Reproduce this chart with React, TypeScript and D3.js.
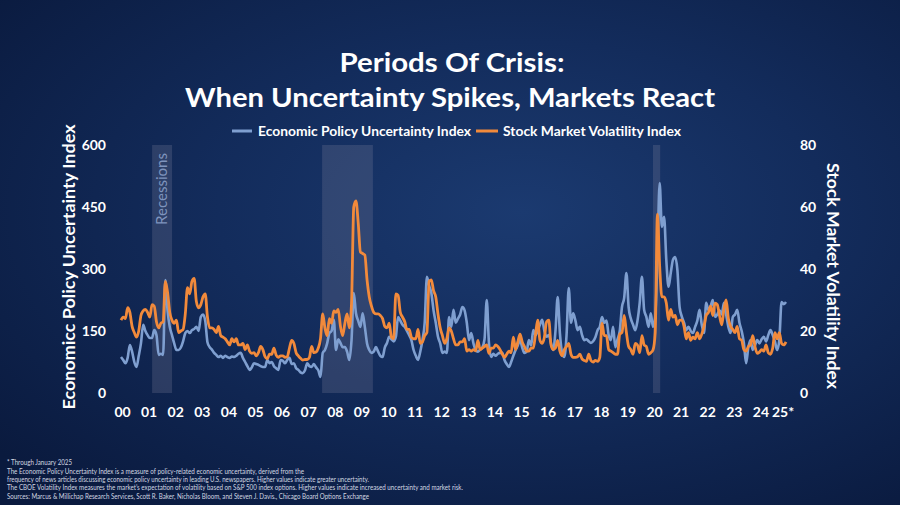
import React from "react";
import * as d3 from "d3";

// Monthly values, Jan 2000 – Jan 2025
const epuValues: number[] = [
  87, 80, 72, 85, 116, 100, 75, 63, 90, 120, 165, 150, // 2000
  140, 133, 133, 152, 140, 92, 95, 92, 273, 200, 160, 140, // 2001
  120, 104, 104, 110, 125, 145, 150, 145, 152, 155, 160, 150, // 2002
  184, 190, 175, 123, 111, 105, 97, 92, 87, 90, 85, 90, // 2003
  87, 85, 88, 87, 90, 95, 97, 85, 75, 65, 56, 62, // 2004
  72, 70, 68, 65, 63, 63, 80, 72, 75, 65, 60, 56, // 2005
  80, 78, 72, 80, 85, 70, 72, 60, 56, 50, 48, 55, // 2006
  72, 65, 63, 70, 62, 55, 39, 97, 104, 120, 145, 150, // 2007
  177, 104, 130, 121, 111, 111, 100, 80, 128, 242, 193, 175, // 2008
  160, 193, 160, 120, 104, 97, 100, 111, 100, 90, 87, 110, // 2009
  121, 136, 130, 125, 136, 184, 175, 165, 160, 150, 140, 128, // 2010
  104, 90, 80, 100, 128, 170, 281, 260, 242, 200, 170, 136, // 2011
  120, 97, 100, 97, 184, 160, 201, 170, 180, 190, 208, 200, // 2012
  170, 128, 145, 120, 104, 100, 105, 110, 130, 225, 120, 87, // 2013
  95, 90, 95, 97, 97, 80, 70, 63, 75, 90, 104, 115, // 2014
  128, 110, 97, 100, 128, 115, 152, 140, 150, 165, 177, 150, // 2015
  136, 140, 120, 104, 150, 232, 145, 97, 87, 140, 254, 170, // 2016
  193, 175, 152, 160, 140, 128, 130, 125, 121, 125, 135, 152, // 2017
  160, 184, 170, 175, 140, 128, 160, 111, 130, 150, 208, 230, // 2018
  290, 208, 180, 165, 152, 175, 218, 281, 201, 184, 160, 193, // 2019
  160, 184, 330, 508, 402, 426, 322, 257, 290, 322, 329, 298, // 2020
  208, 185, 170, 152, 160, 150, 145, 160, 175, 201, 165, 145, // 2021
  218, 201, 210, 225, 184, 190, 200, 190, 218, 190, 160, 145, // 2022
  184, 190, 201, 170, 150, 121, 72, 110, 128, 104, 115, 128, // 2023
  120, 130, 136, 125, 140, 152, 140, 125, 104, 130, 220, 215, // 2024
  220, // 2025
];

const vixValues: number[] = [
  23.5, 24.5, 24.0, 27.5, 26.0, 21.5, 19.5, 18.0, 20.0, 25.0, 26.5, 27.0, // 2000
  26.0, 24.5, 28.5, 28.0, 23.0, 21.0, 22.5, 23.0, 36.0, 32.5, 26.0, 23.5, // 2001
  22.5, 23.5, 19.5, 20.0, 20.5, 25.5, 34.0, 32.0, 36.0, 37.0, 29.5, 27.5, // 2002
  28.5, 31.0, 32.0, 24.5, 21.0, 21.0, 20.5, 19.5, 21.5, 18.5, 18.0, 17.5, // 2003
  16.5, 15.5, 17.5, 16.5, 17.5, 15.5, 15.5, 16.0, 14.0, 15.5, 13.5, 12.8, // 2004
  13.0, 12.0, 13.0, 15.0, 14.0, 11.7, 11.0, 12.5, 12.5, 14.5, 12.2, 11.5, // 2005
  12.0, 12.0, 11.5, 11.7, 14.5, 17.0, 16.0, 13.0, 12.0, 11.2, 10.6, 10.8, // 2006
  10.8, 11.5, 15.0, 13.0, 13.2, 14.5, 17.5, 25.5, 21.0, 18.5, 24.0, 22.5, // 2007
  26.5, 26.0, 27.0, 21.5, 18.5, 22.5, 25.5, 21.0, 29.0, 60.0, 62.0, 55.0, // 2008
  45.5, 45.0, 44.5, 36.5, 31.0, 28.0, 26.0, 25.5, 25.5, 25.0, 24.0, 21.5, // 2009
  21.0, 22.5, 18.0, 17.5, 32.0, 31.5, 26.0, 24.5, 23.0, 20.5, 20.5, 18.0, // 2010
  17.5, 17.5, 20.5, 16.0, 16.5, 18.5, 19.5, 36.0, 36.5, 33.0, 31.0, 25.5, // 2011
  21.0, 18.5, 16.0, 17.5, 21.0, 20.0, 17.5, 15.5, 15.5, 16.5, 16.5, 17.5, // 2012
  13.5, 14.0, 13.5, 14.0, 13.6, 17.0, 14.0, 14.5, 15.0, 15.5, 12.8, 14.5, // 2013
  14.5, 15.5, 15.0, 14.0, 12.5, 11.5, 12.5, 13.5, 13.0, 18.0, 14.0, 16.5, // 2014
  19.0, 16.5, 15.0, 13.5, 13.5, 14.5, 14.5, 19.0, 23.5, 17.0, 16.0, 18.0, // 2015
  23.0, 23.5, 15.5, 14.0, 14.5, 17.0, 13.5, 12.0, 14.0, 15.0, 16.0, 12.5, // 2016
  11.5, 11.5, 11.7, 12.5, 11.0, 10.5, 10.2, 12.5, 10.5, 10.0, 10.5, 10.2, // 2017
  11.5, 22.5, 18.5, 18.5, 14.0, 13.5, 13.0, 12.5, 12.5, 19.0, 19.5, 25.0, // 2018
  19.5, 15.0, 14.0, 12.5, 16.0, 15.5, 13.0, 18.5, 15.5, 15.0, 12.5, 13.0, // 2019
  13.9, 19.5, 57.7, 41.0, 31.0, 31.0, 29.0, 23.5, 27.0, 24.5, 25.0, 22.0, // 2020
  23.5, 23.5, 21.5, 17.5, 19.5, 17.0, 18.0, 17.5, 19.5, 17.5, 19.0, 21.5, // 2021
  25.0, 26.0, 28.0, 25.0, 29.0, 28.5, 25.0, 22.0, 27.0, 30.0, 24.0, 21.5, // 2022
  20.5, 19.5, 21.5, 17.5, 17.0, 14.0, 13.5, 15.0, 15.5, 18.5, 15.0, 12.8, // 2023
  13.2, 14.0, 13.5, 15.5, 13.0, 12.5, 14.5, 19.5, 17.5, 19.5, 16.0, 15.5, // 2024
  16.5, // 2025
];

const yearTicks: number[] = d3.range(2000, 2026);
const yearLabels: string[] = yearTicks.map((y) =>
  y === 2025 ? "25*" : String(y % 100).padStart(2, "0")
);
const leftTicks: number[] = [0, 150, 300, 450, 600];
const rightTicks: number[] = [0, 20, 40, 60, 80];
const recessions: [number, number][] = [
  [2001.17, 2001.92],
  [2007.56, 2009.47],
  [2020.0, 2020.27],
];

const footnotes: string[] = [
  "* Through January 2025",
  "The Economic Policy Uncertainty Index is a measure of policy-related economic uncertainty, derived from the",
  "frequency of news articles discussing economic policy uncertainty in leading U.S. newspapers. Higher values indicate greater uncertainty.",
  "The CBOE Volatility Index measures the market\u2019s expectation of volatility based on S&P 500 index options. Higher values indicate increased uncertainty and market risk.",
  "Sources: Marcus & Millichap Research Services, Scott R. Baker, Nicholas Bloom, and Steven J. Davis., Chicago Board Options Exchange",
];
const footnoteWidths = [65, 297, 362, 456, 362];

const W = 900;
const H = 505;
const FONT = "Lato, 'Open Sans', sans-serif";
const BLUE = "#7f9fd0";
const ORANGE = "#f28a3b";

export default function App() {
  const x = d3.scaleLinear().domain([2000, 2025]).range([121, 786]);
  const yL = d3.scaleLinear().domain([0, 600]).range([393, 145]);
  const yR = d3.scaleLinear().domain([0, 80]).range([393, 145]);

  const dates = epuValues.map((_, i) => 2000 + i / 12);
  const epuLine = d3
    .line<number>()
    .x((_, i) => x(dates[i]))
    .y((d) => yL(d))
    .curve(d3.curveMonotoneX)(epuValues) as string;
  const vixLine = d3
    .line<number>()
    .x((_, i) => x(dates[i]))
    .y((d) => yR(d))
    .curve(d3.curveMonotoneX)(vixValues) as string;

  return (
    <svg
      width={W}
      height={H}
      viewBox={`0 0 ${W} ${H}`}
      style={{ position: "absolute", left: 0, top: 0, display: "block" }}
      fontFamily={FONT}
    >
      <defs>
        <radialGradient id="bg" cx="58%" cy="42%" r="75%">
          <stop offset="0%" stopColor="#1b3a70" />
          <stop offset="45%" stopColor="#132c5c" />
          <stop offset="100%" stopColor="#0a1a3e" />
        </radialGradient>
      </defs>
      <rect x={0} y={0} width={W} height={H} fill="url(#bg)" />

      {/* Title */}
      <text x={452} y={72} textAnchor="middle" fill="#fff" fontWeight={700} fontSize={27.5} textLength={225} lengthAdjust="spacingAndGlyphs">
        Periods Of Crisis:
      </text>
      <text x={450} y={107} textAnchor="middle" fill="#fff" fontWeight={700} fontSize={27.5} textLength={530} lengthAdjust="spacingAndGlyphs">
        When Uncertainty Spikes, Markets React
      </text>

      {/* Legend */}
      <line x1={232} x2={252} y1={131} y2={131} stroke={BLUE} strokeWidth={3} />
      <text x={258} y={131} dy="0.35em" fill="#fff" fontWeight={700} fontSize={13} textLength={213} lengthAdjust="spacingAndGlyphs">
        Economic Policy Uncertainty Index
      </text>
      <line x1={476} x2={498} y1={131} y2={131} stroke={ORANGE} strokeWidth={3} />
      <text x={503} y={131} dy="0.35em" fill="#fff" fontWeight={700} fontSize={13} textLength={178} lengthAdjust="spacingAndGlyphs">
        Stock Market Volatility Index
      </text>

      {/* Recession bands */}
      {recessions.map(([a, b], i) => (
        <rect key={i} x={x(a)} y={yL(600)} width={x(b) - x(a)} height={yL(0) - yL(600)} fill="#8c8ca4" opacity={0.24} />
      ))}
      <text
        transform={`translate(${(x(recessions[0][0]) + x(recessions[0][1])) / 2},189) rotate(-90)`}
        textAnchor="middle"
        dy="0.35em"
        fill="#7f94bd"
        fontSize={15}
        textLength={72}
        lengthAdjust="spacingAndGlyphs"
      >
        Recessions
      </text>

      {/* Lines */}
      <path d={epuLine} fill="none" stroke={BLUE} strokeWidth={2.6} strokeLinejoin="round" />
      <path d={vixLine} fill="none" stroke={ORANGE} strokeWidth={2.8} strokeLinejoin="round" />

      {/* Left ticks */}
      {leftTicks.map((t) => (
        <text key={t} x={106} y={yL(t)} dy="0.35em" textAnchor="end" fill="#fff" fontWeight={700} fontSize={14}>
          {t}
        </text>
      ))}
      {/* Right ticks */}
      {rightTicks.map((t) => (
        <text key={t} x={800} y={yR(t)} dy="0.35em" textAnchor="start" fill="#fff" fontWeight={700} fontSize={14}>
          {t}
        </text>
      ))}
      {/* X ticks */}
      {yearTicks.map((yv, i) =>
        yv === 2025 ? (
          <text key={yv} x={x(yv) - 14} y={412} dy="0.35em" textAnchor="start" fill="#fff" fontWeight={700} fontSize={14}>
            {yearLabels[i]}
          </text>
        ) : (
          <text key={yv} x={x(yv) + 1.5} y={412} dy="0.35em" textAnchor="middle" fill="#fff" fontWeight={700} fontSize={14}>
            {yearLabels[i]}
          </text>
        )
      )}

      {/* Axis titles */}
      <text transform="translate(69,267) rotate(-90)" textAnchor="middle" dy="0.35em" fill="#fff" fontWeight={700} fontSize={17} textLength={285} lengthAdjust="spacingAndGlyphs">
        Economicc Policy Uncertainty Index
      </text>
      <text transform="translate(833,276) rotate(90)" textAnchor="middle" dy="0.35em" fill="#fff" fontWeight={700} fontSize={17} textLength={226} lengthAdjust="spacingAndGlyphs">
        Stock Market Volatility Index
      </text>

      {/* Footnotes */}
      {footnotes.map((f, i) => (
        <text key={i} x={7} y={463 + i * 8.3} dy="0.35em" fill="#d3d8e2" fontSize={6.6} textLength={footnoteWidths[i]} lengthAdjust="spacingAndGlyphs">
          {f}
        </text>
      ))}
    </svg>
  );
}
